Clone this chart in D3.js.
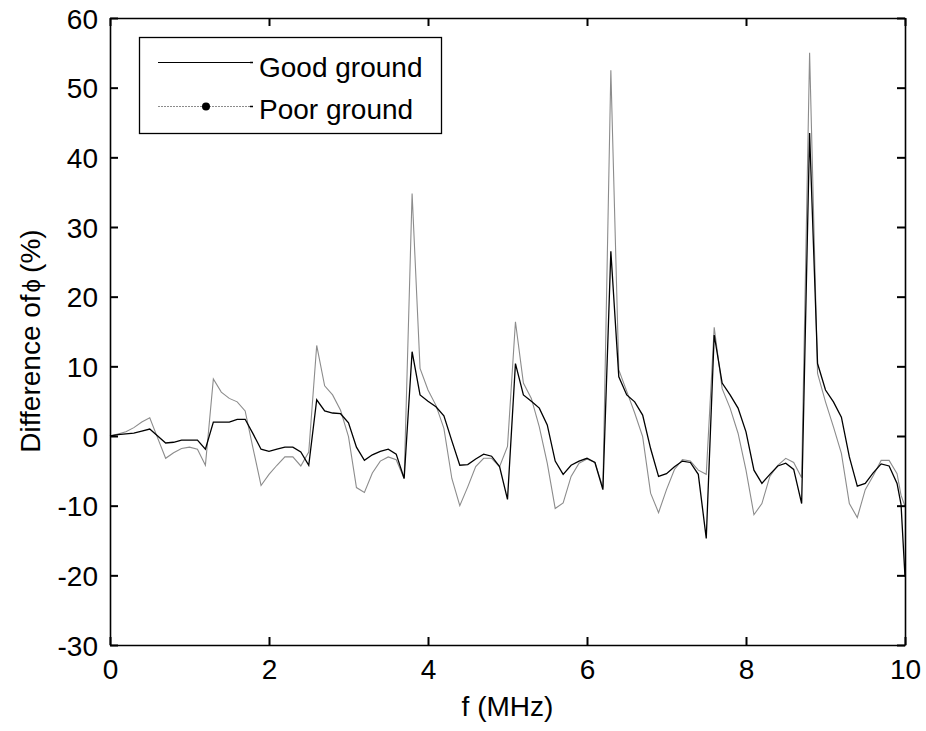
<!DOCTYPE html>
<html>
<head>
<meta charset="utf-8">
<script src="https://cdn.jsdelivr.net/npm/d3@7"></script>
<style>
  body { margin: 0; background: #fff; }
  svg text { font-family: "Liberation Sans", Arial, sans-serif; fill: #000; }
</style>
</head>
<body>
<svg id="chart" width="926" height="731"></svg>
<script>
// frequency samples (MHz)
var freq = [0, 0.1, 0.2, 0.3, 0.4, 0.5, 0.6, 0.7, 0.8, 0.9,
  1.0, 1.1, 1.2, 1.3, 1.4, 1.5, 1.6, 1.7, 1.8, 1.9,
  2.0, 2.1, 2.2, 2.3, 2.4, 2.5, 2.6, 2.7, 2.8, 2.9,
  3.0, 3.1, 3.2, 3.3, 3.4, 3.5, 3.6, 3.7, 3.8, 3.9,
  4.0, 4.1, 4.2, 4.3, 4.4, 4.5, 4.6, 4.7, 4.8, 4.9,
  5.0, 5.1, 5.2, 5.3, 5.4, 5.5, 5.6, 5.7, 5.8, 5.9,
  6.0, 6.1, 6.2, 6.3, 6.4, 6.5, 6.6, 6.7, 6.8, 6.9,
  7.0, 7.1, 7.2, 7.3, 7.4, 7.5, 7.6, 7.7, 7.8, 7.9,
  8.0, 8.1, 8.2, 8.3, 8.4, 8.5, 8.6, 8.7, 8.8, 8.9,
  9.0, 9.1, 9.2, 9.3, 9.4, 9.5, 9.6, 9.7, 9.8, 9.9, 9.95, 10];

// difference of phi (%) - good ground (black)
var goodGround = [0, 0.2, 0.3, 0.4, 0.7, 1.0, 0.0, -1.0, -0.9, -0.6,
  -0.6, -0.6, -1.9, 2.0, 2.0, 2.0, 2.4, 2.4, 0.3, -1.9,
  -2.2, -1.9, -1.6, -1.6, -2.3, -4.2, 5.2, 3.6, 3.3, 3.2,
  1.9, -1.6, -3.5, -2.7, -2.2, -1.9, -2.6, -6.1, 12.1, 5.9,
  5.0, 4.2, 2.9, -0.7, -4.2, -4.1, -3.3, -2.6, -2.9, -4.4,
  -9.1, 10.4, 5.9, 5.0, 4.0, 1.6, -3.6, -5.5, -4.2, -3.6,
  -3.2, -3.8, -7.7, 26.5, 8.5, 5.9, 4.9, 3.0, -1.8, -5.8,
  -5.4, -4.4, -3.6, -3.8, -5.5, -14.7, 14.5, 7.6, 5.9, 4.0,
  0.6, -4.9, -6.8, -5.5, -4.3, -3.9, -4.8, -9.7, 43.5, 10.4,
  6.6, 4.9, 2.7, -3.0, -7.2, -6.8, -5.3, -4.0, -4.3, -6.8, -9.8, -20.2];

// difference of phi (%) - poor ground (grey)
var poorGround = [0, 0.3, 0.6, 1.2, 2.0, 2.6, -0.3, -3.2, -2.4, -1.8,
  -1.6, -1.9, -4.2, 8.2, 6.3, 5.4, 4.9, 3.6, -1.8, -7.1,
  -5.5, -4.2, -3.0, -3.0, -4.3, -2.3, 13.0, 7.2, 5.9, 3.7,
  -0.1, -7.4, -8.1, -5.3, -3.6, -3.0, -3.4, -6.1, 34.8, 9.7,
  6.6, 4.4, 1.1, -6.1, -10.0, -7.3, -4.4, -3.2, -3.2, -4.4,
  -1.5, 16.4, 7.6, 5.4, 1.3, -3.9, -10.4, -9.6, -5.8, -3.9,
  -3.3, -3.8, -7.4, 52.5, 9.5, 6.4, 3.3, -0.1, -8.2, -11.0,
  -7.7, -4.8, -3.4, -3.6, -4.9, -5.5, 15.6, 6.8, 4.0, 0.4,
  -4.9, -11.3, -9.7, -5.8, -4.2, -3.2, -3.8, -6.0, 55.0, 9.0,
  4.9, 1.3, -2.5, -9.7, -11.7, -7.7, -5.7, -3.5, -3.5, -5.4, -8.5, -10.1];

var xTicks = [0, 2, 4, 6, 8, 10];
var yTicks = [-30, -20, -10, 0, 10, 20, 30, 40, 50, 60];
var seriesNames = ["Good ground", "Poor ground"];

var svg = d3.select("#chart"),
    margin = {top: 18, left: 110, bottom: 86, right: 21},
    width = +svg.attr("width") - margin.left - margin.right,
    height = +svg.attr("height") - margin.top - margin.bottom;

var x = d3.scaleLinear().domain([0, 10]).range([margin.left, margin.left + width]);
var y = d3.scaleLinear().domain([-30, 60]).range([margin.top + height, margin.top]);

var tickLen = 8;
var plainFmt = function(d) { return String(d); };   // hyphen minus like matlab

// lines
var line = d3.line()
    .x(function(d, i) { return x(freq[i]); })
    .y(function(d) { return y(d); });

svg.append("path")
    .datum(poorGround)
    .attr("fill", "none")
    .attr("stroke", "#8c8c8c")
    .attr("stroke-width", 1.1)
    .attr("d", line);

svg.append("path")
    .datum(goodGround)
    .attr("fill", "none")
    .attr("stroke", "#000")
    .attr("stroke-width", 1.3)
    .attr("d", line);

// axes (MATLAB-like box with inner ticks)
var bottomAxis = svg.append("g")
    .attr("transform", `translate(0,${margin.top + height})`)
    .call(d3.axisBottom(x).tickValues(xTicks).tickSizeInner(-tickLen).tickSizeOuter(0).tickPadding(14).tickFormat(plainFmt));
var topAxis = svg.append("g")
    .attr("transform", `translate(0,${margin.top})`)
    .call(d3.axisTop(x).tickValues(xTicks).tickSizeInner(-tickLen).tickSizeOuter(0).tickFormat(""));
var leftAxis = svg.append("g")
    .attr("transform", `translate(${margin.left},0)`)
    .call(d3.axisLeft(y).tickValues(yTicks).tickSizeInner(-tickLen).tickSizeOuter(0).tickPadding(12).tickFormat(plainFmt));
var rightAxis = svg.append("g")
    .attr("transform", `translate(${margin.left + width},0)`)
    .call(d3.axisRight(y).tickValues(yTicks).tickSizeInner(-tickLen).tickSizeOuter(0).tickFormat(""));

[bottomAxis, topAxis, leftAxis, rightAxis].forEach(function(a) {
    a.select(".domain").attr("stroke", "#000").attr("stroke-width", 1.6);
    a.selectAll(".tick line").attr("stroke", "#000").attr("stroke-width", 2);
    a.selectAll("text")
        .style("font-size", "28px")
        .style("font-family", "'Liberation Sans', Arial, sans-serif")
        .attr("fill", "#000");
});
bottomAxis.selectAll("text").attr("dy", "0.71em");
leftAxis.selectAll("text").attr("dy", "0.36em");

// axis titles
svg.append("text")
    .attr("x", margin.left + width / 2)
    .attr("y", 716)
    .attr("text-anchor", "middle")
    .style("font-size", "28px")
    .text("f (MHz)");

var yTitle = svg.append("text")
    .attr("transform", "translate(40,341) rotate(-90)")
    .attr("text-anchor", "middle")
    .style("font-size", "28px");
yTitle.append("tspan").text("Difference of");
yTitle.append("tspan").style("font-size", "24px").attr("dx", 2).text("\u03d5");
yTitle.append("tspan").attr("dx", 6).text("(%)");

// legend
var legend = svg.append("g");
legend.append("rect")
    .attr("x", 139.5).attr("y", 37.5)
    .attr("width", 302).attr("height", 96)
    .attr("fill", "#fff")
    .attr("stroke", "#000")
    .attr("stroke-width", 1.3);

var legendRows = [
    {name: seriesNames[0], color: "#000", dash: null, dot: false, ly: 62.5, ty: 77},
    {name: seriesNames[1], color: "#8c8c8c", dash: "2,1", dot: true, ly: 106.5, ty: 119}
];
legendRows.forEach(function(r) {
    legend.append("line")
        .attr("x1", 158).attr("x2", 250)
        .attr("y1", r.ly).attr("y2", r.ly)
        .attr("stroke", r.color)
        .attr("stroke-width", r.dot ? 1.2 : 1)
        .attr("stroke-dasharray", r.dash);
    legend.append("line")
        .attr("x1", 250).attr("x2", 253)
        .attr("y1", r.ly).attr("y2", r.ly)
        .attr("stroke", "#000").attr("stroke-width", 1.5);
    if (r.dot) {
        legend.append("circle")
            .attr("cx", 206).attr("cy", r.ly).attr("r", 4)
            .attr("fill", "#000");
    }
    legend.append("text")
        .attr("x", 259).attr("y", r.ty)
        .style("font-size", "28px")
        .text(r.name);
});
</script>
</body>
</html>
